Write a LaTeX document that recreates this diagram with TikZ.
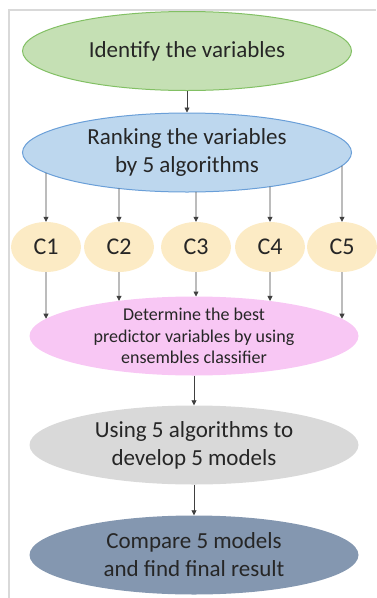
\documentclass[tikz,border=0pt]{standalone}
\usepackage{fontspec}
\setmainfont{Carlito}
\usetikzlibrary{shapes.geometric,intersections,arrows.meta}
\definecolor{identfill}{HTML}{C5E0B4}
\definecolor{identline}{HTML}{82C064}
\definecolor{rankfill}{HTML}{BDD7EE}
\definecolor{rankline}{HTML}{6A9FD8}
\definecolor{cfill}{HTML}{FCEBC5}
\definecolor{pickfill}{HTML}{F8C7F4}
\definecolor{modelfill}{HTML}{D9D9D9}
\definecolor{finalfill}{HTML}{8497B0}
\definecolor{framegray}{HTML}{D9D9D9}
\begin{document}
\begin{tikzpicture}[x=1pt,y=-1pt,
        blob/.style={ellipse,inner sep=0pt,align=center,text=black!85,
            minimum width=329pt,minimum height=79pt,font=\fontsize{23}{28}\selectfont},
        cnode/.style={ellipse,fill=cfill,inner sep=0pt,text=black!85,
            minimum width=70pt,minimum height=50pt,font=\fontsize{24}{28}\selectfont},
        arr/.style={-{Triangle[length=5pt,width=5pt]},draw=black!75,line width=0.8pt}]
    \useasboundingbox (0,0) rectangle (376,598);
    %% frame
    \draw[framegray,line width=2pt] (9,598) -- (9,10) -- (376,10);
    %% main steps
    \node[blob,fill=identfill,draw=identline,line width=1pt] (ident) at (187,51) {Identify the variables};
    \node[blob,fill=rankfill,draw=rankline,line width=1pt,name path=rank] (rank) at (187,152.5) {Ranking the variables\\by 5 algorithms};
    \node[blob,fill=pickfill,name path=pick,font=\fontsize{18}{21.5}\selectfont] (pick) at (194,336) {Determine the best\\predictor variables by using\\ensembles classifier};
    \node[blob,fill=modelfill] (model) at (194,445) {Using 5 algorithms to\\develop 5 models};
    \node[blob,fill=finalfill] (final) at (194,555) {Compare 5 models\\and find final result};
    \draw[arr] (ident) -- (rank);
    \draw[arr] (pick) -- (model);
    \draw[arr] (model) -- (final);
    %% the five classifiers
    \foreach \i/\x in {1/46,2/119,3/196,4/270,5/342} {
        \node[cnode] (c\i) at (\x,247) {C\i};
        \path[name path=up-\i] (c\i.center) -- ++(0,-93);
        \path[name path=dn-\i] (c\i.center) -- ++(0,85);
        \draw[arr,name intersections={of=rank and up-\i}] (intersection-1) -- (c\i.north);
        \draw[arr,name intersections={of=pick and dn-\i}] (c\i.south) -- (intersection-1);
    }
\end{tikzpicture}
\end{document}
